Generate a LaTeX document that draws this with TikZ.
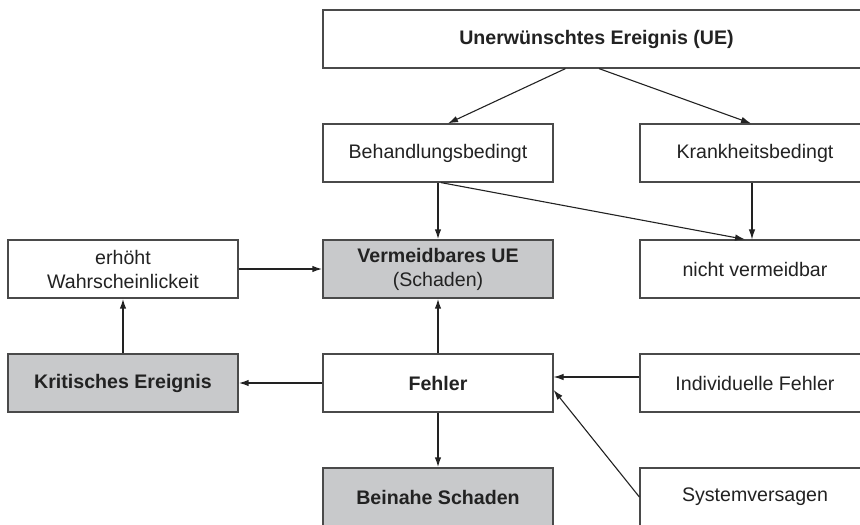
\documentclass[tikz,border=0pt]{standalone}
\usepackage{fontspec}
\setmainfont{Liberation Sans}
\usepackage{tikz}
\usetikzlibrary{arrows.meta}

\definecolor{boxgrey}{HTML}{C8C9CB}
\definecolor{linegrey}{HTML}{4A4A4A}
\definecolor{textgrey}{HTML}{222222}

\tikzset{
  block/.style={draw=linegrey,line width=1.2pt,fill=white,minimum width=230pt,minimum height=58pt,
    inner sep=2pt,align=center,text=textgrey,font=\fontsize{19.6}{24}\selectfont},
  greyblock/.style={block,fill=boxgrey},
  thickarrow/.style={-{Latex[length=10pt,width=6.5pt]},line width=1.6pt,draw=textgrey},
  thinarrow/.style={-{Latex[length=10pt,width=6.5pt]},line width=1.1pt,draw=textgrey}
}

\begin{document}
\begin{tikzpicture}[x=1pt,y=-1pt]
\useasboundingbox (0,0) rectangle (860,525);
\clip (0,0) rectangle (860,525);
\node[block,minimum width=547pt] (ue) at (596.5,39) {\bfseries Unerwünschtes Ereignis (UE)};
\node[block] (behand) at (438,153) {Behandlungsbedingt};
\node[block] (krank) at (755,153) {Krankheitsbedingt};
\node[greyblock] (verm) at (438,269) {\bfseries Vermeidbares UE\\(Schaden)};
\node[block] (nichtv) at (755,269) {nicht vermeidbar};
\node[block] (erhoeht) at (123,269) {erhöht\\Wahrscheinlickeit};
\node[greyblock] (krit) at (123,383) {\bfseries Kritisches Ereignis};
\node[block] (fehler) at (438,383) {\bfseries Fehler};
\node[block] (indiv) at (755,383) {Individuelle Fehler};
\node[greyblock] (beinahe) at (438,497) {\bfseries Beinahe Schaden};
\node[block] (system) at (755,497) {Systemversagen};
% oben
\draw[thinarrow] ([xshift=-31pt]ue.south) -- ([xshift=10pt]behand.north);
\draw[thinarrow] ([xshift=2.5pt]ue.south) -- ([xshift=-4pt]krank.north);
\draw[thickarrow] (behand.south) -- (verm.north);
\draw[thinarrow] ([xshift=3pt]behand.south) -- ([xshift=-10pt]nichtv.north);
\draw[thinarrow] ([xshift=-3pt]krank.south) -- ([xshift=-3pt]nichtv.north);
% links und mitte
\draw[thickarrow] (erhoeht.east) -- (verm.west);
\draw[thickarrow] (krit.north) -- (erhoeht.south);
\draw[thickarrow] (fehler.west) -- (krit.east);
\draw[thickarrow] (fehler.north) -- (verm.south);
\draw[thickarrow] (fehler.south) -- (beinahe.north);
% rechts
\draw[thinarrow] ([yshift=6pt]indiv.west) -- ([yshift=6pt]fehler.east);
\draw[thinarrow] (system.west) -- ([yshift=-7pt]fehler.east);
\end{tikzpicture}
\end{document}
